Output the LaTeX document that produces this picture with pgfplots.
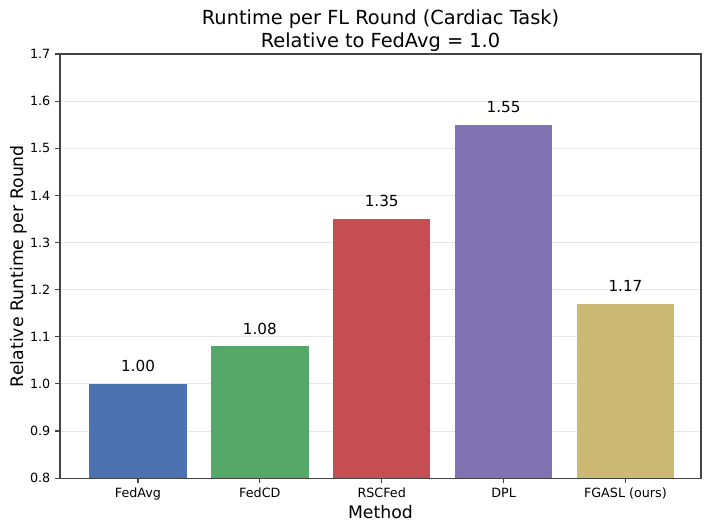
\documentclass[border=0pt]{standalone}
\usepackage{pgfplots}
\pgfplotsset{compat=1.18}
\usepackage{fontspec}
\setmainfont{DejaVu Sans}

\definecolor{cA}{HTML}{4C72B0}
\definecolor{cB}{HTML}{55A868}
\definecolor{cC}{HTML}{C44E52}
\definecolor{cD}{HTML}{8172B2}
\definecolor{cE}{HTML}{CCB974}
\definecolor{gridc}{HTML}{E6E6E6}
\definecolor{spine}{HTML}{444444}

\begin{document}
\begin{tikzpicture}
\begin{axis}[
  scale only axis,
  width=461.5bp, height=305.3bp,
  xmin=-0.64, xmax=4.62,
  ymin=0.8, ymax=1.7,
  ytick={0.8,0.9,...,1.7},
  yticklabel style={/pgf/number format/fixed, /pgf/number format/fixed zerofill, /pgf/number format/precision=1},
  /pgf/number format/assume math mode=true,
  xtick={0,1,2,3,4},
  xticklabels={FedAvg, FedCD, RSCFed, DPL, FGASL (ours)},
  tick label style={font=\fontsize{9.2}{11}\selectfont},
  tick align=outside,
  tick pos=left,
  major tick length=3.5bp,
  axis line style={spine, line width=0.8bp},
  every tick/.style={spine, line width=0.8bp},
  ymajorgrids,
  grid style={gridc, line width=0.6bp},
  axis on top=false,
  title={Runtime per FL Round (Cardiac Task)\\Relative to FedAvg = 1.0},
  title style={font=\fontsize{14}{16.5}\selectfont, align=center, yshift=-7.5bp},
  xlabel={Method},
  ylabel={Relative Runtime per Round},
  label style={font=\fontsize{12.5}{14}\selectfont},
  xlabel style={yshift=3bp},
  ylabel style={yshift=-5bp},
  ybar, bar width=0.8, bar shift=0pt,
  nodes near coords,
  nodes near coords style={font=\fontsize{11}{13}\selectfont, anchor=south, yshift=5bp,
    /pgf/number format/fixed, /pgf/number format/fixed zerofill, /pgf/number format/precision=2},
]
\addplot[fill=cA, draw=none] coordinates {(0,1.00)};
\addplot[fill=cB, draw=none] coordinates {(1,1.08)};
\addplot[fill=cC, draw=none] coordinates {(2,1.35)};
\addplot[fill=cD, draw=none] coordinates {(3,1.55)};
\addplot[fill=cE, draw=none] coordinates {(4,1.17)};
\end{axis}
\pgfresetboundingbox
\path[use as bounding box] (-43.2bp,-37.44bp) rectangle (468.7bp,344.2bp);
\end{tikzpicture}
\end{document}
